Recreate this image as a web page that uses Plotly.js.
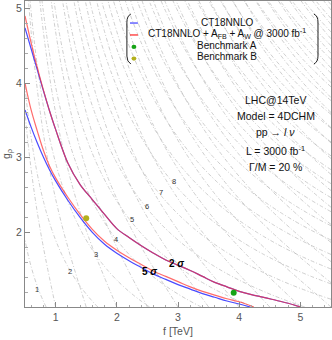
<!DOCTYPE html>
<html>
<head>
<meta charset="utf-8">
<script src="https://cdn.plot.ly/plotly-3.0.1.min.js"></script>
<style>html,body{margin:0;padding:0;background:#fff}</style>
</head>
<body>
<div id="plot" style="width:332px;height:340px"></div>
<script>
// reach curves: f [TeV] vs g_rho
const upperF = [0.5, 0.6, 0.7, 0.8, 0.9, 1.0, 1.2, 1.4, 1.6, 1.8, 2.0, 2.2, 2.4, 2.6, 2.8, 3.0, 3.2, 3.4, 3.6, 3.8, 4.0, 4.2, 4.4, 4.6, 4.8, 5.0];
const upperBlueG = [4.74, 4.46, 4.18, 3.90, 3.63, 3.38, 2.93, 2.64, 2.44, 2.24, 2.05, 1.93, 1.82, 1.72, 1.63, 1.56, 1.49, 1.41, 1.33, 1.27, 1.21, 1.165, 1.13, 1.09, 1.05, 1.0];
const upperRedG = [4.90, 4.54, 4.21, 3.91, 3.63, 3.38, 2.93, 2.64, 2.44, 2.24, 2.05, 1.93, 1.82, 1.72, 1.63, 1.56, 1.49, 1.41, 1.33, 1.27, 1.21, 1.165, 1.13, 1.09, 1.05, 1.0];

const lowerBlueF = [0.5, 0.6, 0.7, 0.8, 0.9, 1.0, 1.2, 1.4, 1.6, 1.8, 2.0, 2.2, 2.4, 2.6, 2.8, 3.0, 3.2, 3.4, 3.6, 3.8, 4.0, 4.18];
const lowerBlueG = [3.64, 3.41, 3.20, 3.01, 2.84, 2.69, 2.43, 2.20, 2.00, 1.84, 1.72, 1.62, 1.53, 1.44, 1.37, 1.30, 1.24, 1.18, 1.13, 1.08, 1.04, 1.0];
const lowerRedF = [0.5, 0.6, 0.7, 0.8, 0.9, 1.0, 1.2, 1.4, 1.6, 1.8, 2.0, 2.2, 2.4, 2.6, 2.8, 3.0, 3.2, 3.4, 3.6, 3.8, 4.0, 4.24];
const lowerRedG = [4.00, 3.64, 3.36, 3.10, 2.89, 2.73, 2.47, 2.24, 2.04, 1.88, 1.76, 1.66, 1.57, 1.48, 1.41, 1.34, 1.27, 1.21, 1.16, 1.11, 1.07, 1.0];

// benchmark points
const benchA = {f: [3.91], g: [1.19]};
const benchB = {f: [1.50], g: [2.19]};

// Z' mass contour labels (TeV)
const contourLabelText = ['1', '2', '3', '4', '5', '6', '7', '8'];
const contourLabelF = [0.69, 1.23, 1.66, 1.99, 2.25, 2.50, 2.73, 2.93];
const contourLabelG = [1.23, 1.48, 1.70, 1.91, 2.17, 2.34, 2.53, 2.68];

const sigmaText = ['<b>5 <i>σ</i></b>', '<b>2 <i>σ</i></b>'];
const sigmaF = [2.54, 2.97];
const sigmaG = [1.48, 1.58];

const infoLines = ['LHC@14TeV', 'Model = 4DCHM', 'pp → <i>l ν</i>', 'L = 3000 fb<sup>-1</sup>', 'Γ/M = 20 %'];
const legendLines = ['CT18NNLO', 'CT18NNLO + A<sub>FB</sub> + A<sub>W</sub> @ 3000 fb<sup>-1</sup>', 'Benchmark A', 'Benchmark B'];

const blue = '#4a4aff';
const red = 'rgba(255,50,50,0.72)';

// grid for the two families of Z' mass contours in the background
let gridF = [], gridG = [], massA = [], massB = [];
for (let i = 0; i <= 100; i++) gridF.push(0.5 + i * 0.05);
for (let j = 0; j <= 82; j++) gridG.push(1 + j * 0.05);
for (let j = 0; j < gridG.length; j++) {
    let g = gridG[j];
    massA.push(gridF.map(f => f * Math.sqrt(g * g + 0.4)));
    massB.push(gridF.map(f => f * Math.sqrt(g * g + 3)));
}

let contour = z => ({
    type: 'contour',
    x: gridF, y: gridG, z: z,
    showscale: false,
    hoverinfo: 'skip',
    contours: {coloring: 'none', start: 1, end: 30, size: 1},
    line: {color: '#bdbdbd', width: 0.75, dash: '4px,2px,1px,2px', smoothing: 1}
});

let line = (x, y, color) => ({
    x: x, y: y, mode: 'lines', type: 'scatter',
    line: {color: color, width: 1.2, shape: 'spline'},
    hoverinfo: 'skip'
});

let traces = [
    contour(massA),
    contour(massB),
    line(upperF, upperBlueG, blue),
    line(lowerBlueF, lowerBlueG, blue),
    line(upperF, upperRedG, red),
    line(lowerRedF, lowerRedG, red),
    {x: benchA.f, y: benchA.g, mode: 'markers', type: 'scatter', marker: {color: '#16a316', size: 6}},
    {x: benchB.f, y: benchB.g, mode: 'markers', type: 'scatter', marker: {color: '#b3b01c', size: 6}}
];

let annotations = [];
contourLabelText.forEach((t, i) => annotations.push({
    x: contourLabelF[i], y: contourLabelG[i], text: t, showarrow: false,
    xanchor: 'center', yanchor: 'middle',
    font: {size: 7.5, color: '#333'}
}));
sigmaText.forEach((t, i) => annotations.push({
    x: sigmaF[i], y: sigmaG[i], text: t, showarrow: false,
    xanchor: 'center', yanchor: 'middle',
    font: {size: 10, color: '#000'}
}));
const infoY = [0.676, 0.624, 0.572, 0.513, 0.4575];
infoLines.forEach((t, i) => annotations.push({
    xref: 'paper', yref: 'paper', x: 0.82, y: infoY[i], text: t, showarrow: false,
    xanchor: 'center', yanchor: 'middle',
    font: {size: 10.5, color: '#111'}
}));
const legendY = [0.931, 0.893, 0.856, 0.818];
legendLines.forEach((t, i) => annotations.push({
    xref: 'paper', yref: 'paper', x: 0.66, y: legendY[i], text: t, showarrow: false,
    xanchor: 'center', yanchor: 'middle',
    font: {size: 10, color: '#111'}
}));

let shapes = [
    {type: 'line', xref: 'paper', yref: 'paper', x0: 0.343, x1: 0.369, y0: 0.928, y1: 0.928, line: {color: blue, width: 1.3}},
    {type: 'line', xref: 'paper', yref: 'paper', x0: 0.343, x1: 0.369, y0: 0.889, y1: 0.889, line: {color: '#ff3232', width: 1.3}},
    {type: 'circle', xref: 'paper', yref: 'paper', x0: 0.348, x1: 0.364, y0: 0.843, y1: 0.857, fillcolor: '#16a316', line: {width: 0}},
    {type: 'circle', xref: 'paper', yref: 'paper', x0: 0.348, x1: 0.364, y0: 0.805, y1: 0.819, fillcolor: '#b3b01c', line: {width: 0}},
    {type: 'path', xref: 'paper', yref: 'paper', path: 'M 0.346 0.9575 Q 0.333 0.951 0.333 0.931 L 0.333 0.82 Q 0.333 0.801 0.346 0.794', line: {color: '#222', width: 1}},
    {type: 'path', xref: 'paper', yref: 'paper', path: 'M 0.944 0.9575 Q 0.9575 0.951 0.9575 0.931 L 0.9575 0.82 Q 0.9575 0.801 0.944 0.794', line: {color: '#222', width: 1}}
];

let axisFont = {family: 'Liberation Sans, Arial, sans-serif', size: 10.5, color: '#555'};

let layout = {
    width: 332, height: 340,
    margin: {l: 25, r: 1, t: 1, b: 33},
    showlegend: false,
    paper_bgcolor: '#fff', plot_bgcolor: '#fff',
    font: {family: 'Liberation Sans, Arial, sans-serif'},
    xaxis: {
        range: [0.5, 5.5], tickvals: [1, 2, 3, 4, 5], ticks: 'inside', ticklen: 5, tickcolor: '#888',
        showgrid: false, zeroline: false, showline: true, linecolor: '#888', mirror: true,
        tickfont: axisFont,
        minor: {dtick: 0.2, ticks: 'inside', ticklen: 2.5, tickcolor: '#aaa'},
        title: {text: 'f [TeV]', font: axisFont, standoff: 6}
    },
    yaxis: {
        range: [1, 5.1], tickvals: [2, 3, 4, 5], ticks: 'inside', ticklen: 5, tickcolor: '#888',
        showgrid: false, zeroline: false, showline: true, linecolor: '#888', mirror: true,
        tickfont: axisFont,
        minor: {dtick: 0.2, ticks: 'inside', ticklen: 2.5, tickcolor: '#aaa'},
        title: {text: 'g<sub>ρ</sub>', font: axisFont, standoff: 4}
    },
    annotations: annotations,
    shapes: shapes
};

Plotly.newPlot('plot', traces, layout, {staticPlot: true});
</script>
</body>
</html>
